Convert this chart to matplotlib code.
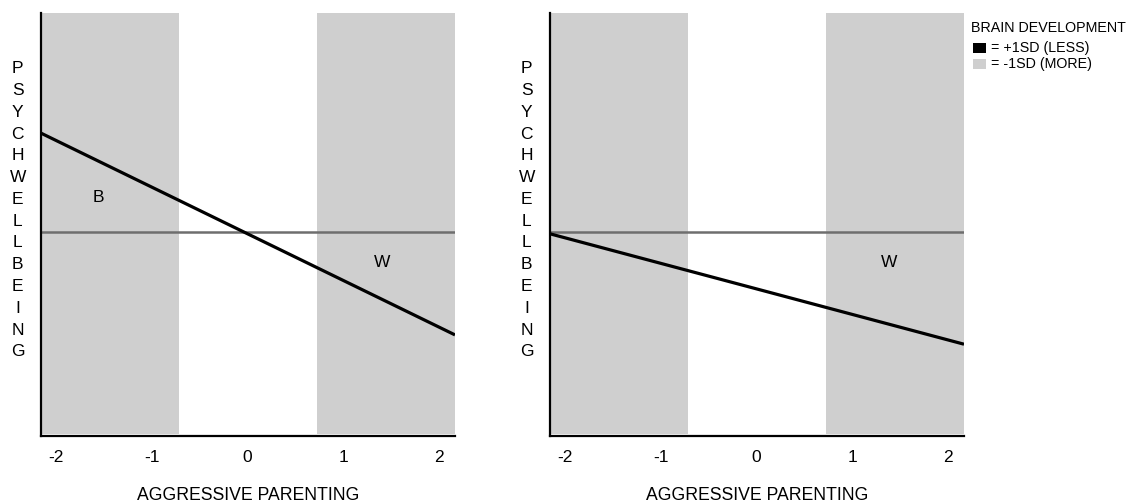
import matplotlib
matplotlib.use("Agg")
import matplotlib.pyplot as plt
from matplotlib.patches import Rectangle

plt.rcParams["font.family"] = ["Liberation Sans", "DejaVu Sans"]

# x = aggressive parenting (SD), y = psych wellbeing (relative units 0..1)
x_ticks = [-2, -1, 0, 1, 2]
x_lim = [-2.16, 2.17]
shade_low = [-2.16, -0.72]
shade_high = [0.73, 2.17]
reference_level = 0.482

# simple slopes at the axis edges
left_line_y = [0.716, 0.239]
right_line_y = [0.478, 0.217]

left_letters = [("B", -1.56, 0.563), ("W", 1.41, 0.411)]
right_letters = [("W", 1.39, 0.411)]

ylabel_letters = list("PSYCHWELLBEING")
xlabel = "AGGRESSIVE PARENTING"

legend_title = "BRAIN DEVELOPMENT"
legend_labels = ["= +1SD (LESS)", "= -1SD (MORE)"]
legend_colors = ["#000000", "#cfcfcf"]

shade_color = "#cfcfcf"

fig = plt.figure(figsize=(11.29, 5.03), dpi=100)
ax_left = fig.add_axes([41 / 1129, 1 - 436 / 503, 414 / 1129, 423 / 503])
ax_right = fig.add_axes([550 / 1129, 1 - 436 / 503, 414 / 1129, 423 / 503])


def draw_panel(ax, line_y, letters):
    ax.axvspan(shade_low[0], shade_low[1], ymin=0.005, color=shade_color, lw=0, zorder=0)
    ax.axvspan(shade_high[0], shade_high[1], ymin=0.005, color=shade_color, lw=0, zorder=0)
    ax.axhline(reference_level, color="#6e6e6e", lw=1.8, zorder=2)
    ax.plot(x_lim, line_y, color="black", lw=2.3, solid_capstyle="butt", zorder=3)

    for txt, x, y in letters:
        ax.text(x, y, txt, fontsize=12.5, ha="center", va="center", zorder=4)

    ax.set_xlim(x_lim)
    ax.set_ylim(0, 1)
    ax.set_xticks(x_ticks)
    ax.set_xticklabels([str(t) for t in x_ticks], fontsize=12.5)
    ax.tick_params(axis="x", length=0, pad=10)
    ax.set_yticks([])

    for side in ["top", "right"]:
        ax.spines[side].set_visible(False)
    for side in ["left", "bottom"]:
        ax.spines[side].set_linewidth(1.6)
        ax.spines[side].set_color("black")
        ax.spines[side].set_zorder(5)

    ax.set_xlabel(xlabel, fontsize=12.7, labelpad=16)

    # stacked vertical y label
    n = len(ylabel_letters)
    top_y, bottom_y = 0.868, 0.199
    for i, ch in enumerate(ylabel_letters):
        y = top_y - i * (top_y - bottom_y) / (n - 1)
        ax.text(-0.056, y, ch, transform=ax.transAxes, fontsize=12.5,
                ha="center", va="center")


draw_panel(ax_left, left_line_y, left_letters)
draw_panel(ax_right, right_line_y, right_letters)

# legend in the top right corner
fig.text(971 / 1129, 1 - 28 / 503, legend_title, fontsize=10.3, ha="left", va="center")
for i, (lab, col) in enumerate(zip(legend_labels, legend_colors)):
    cy = 48 + i * 16
    fig.patches.append(Rectangle((973 / 1129, 1 - (cy + 5) / 503), 13 / 1129, 10 / 503,
                                 transform=fig.transFigure, facecolor=col,
                                 edgecolor="none", figure=fig))
    fig.text(991 / 1129, 1 - cy / 503, lab, fontsize=10.3, ha="left", va="center")

fig.savefig("out.png", dpi=100)
